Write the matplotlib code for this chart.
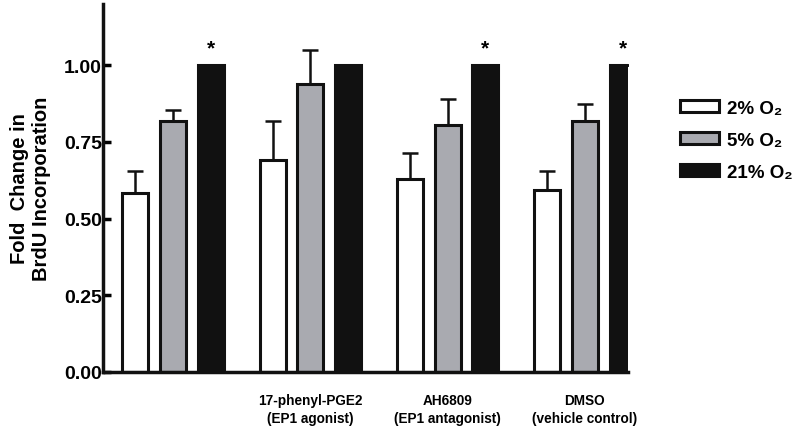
import matplotlib.pyplot as plt
import numpy as np

plt.rcParams['font.family'] = ['Liberation Sans', 'DejaVu Sans']
plt.rcParams['font.weight'] = 'bold'

groups = ['', '17-phenyl-PGE2\n(EP1 agonist)', 'AH6809\n(EP1 antagonist)', 'DMSO\n(vehicle control)']
labels = ['2% O₂', '5% O₂', '21% O₂']
values = [
    [0.585, 0.69, 0.63, 0.595],   # 2% O2
    [0.82, 0.94, 0.805, 0.82],    # 5% O2
    [1.0, 1.0, 1.0, 1.0],         # 21% O2
]
errors = [
    [0.07, 0.13, 0.085, 0.06],
    [0.035, 0.11, 0.085, 0.055],
    [0.0, 0.0, 0.0, 0.0],
]
stars = [True, False, True, True]
colors = ['white', '#a9aab0', '#111111']

fig = plt.figure(figsize=(8, 4.31), dpi=100)
ax = fig.add_axes([0.129, 0.1346, 0.656, 0.8538])

x = np.arange(len(groups))
width = 0.19
step = 0.275
for i in range(3):
    pos = x + (i - 1) * step
    ax.bar(pos, values[i], width, color=colors[i], edgecolor='#111111',
           linewidth=2.2, label=labels[i], zorder=2)
    ax.errorbar(pos, values[i], yerr=[np.zeros(4), errors[i]], fmt='none',
                ecolor='#111111', elinewidth=1.8, capsize=6, capthick=1.8, zorder=1)

for j, s in enumerate(stars):
    if s:
        ax.text(x[j] + step, 1.025, '*', ha='center', va='bottom', fontsize=15, fontweight='bold')

ax.set_xlim(-0.51, 3.314)
ax.set_ylim(0, 1.2)
ax.set_yticks([0, 0.25, 0.5, 0.75, 1.0])
ax.set_yticklabels(['0.00', '0.25', '0.50', '0.75', '1.00'], fontsize=14, fontweight='bold')
ax.set_xticks(x)
ax.set_xticklabels(groups, fontsize=9.8, fontweight='bold', linespacing=1.4)
ax.tick_params(axis='x', length=0, pad=15)
ax.tick_params(axis='y', width=2.5, length=6, direction='in', pad=1)
for side in ['top', 'right']:
    ax.spines[side].set_visible(False)
for side in ['left', 'bottom']:
    ax.spines[side].set_linewidth(2.5)
    ax.spines[side].set_color('#111111')

ax.set_ylabel('Fold  Change in\nBrdU Incorporation', fontsize=14.5, fontweight='bold', labelpad=9)

ax.legend(loc='upper left', bbox_to_anchor=(1.099, 0.74), frameon=False, fontsize=13.5,
          borderpad=0, borderaxespad=0,
          handlelength=2.1, handleheight=0.55, labelspacing=0.8, handletextpad=0.4)

fig.savefig('out.png', dpi=100)
